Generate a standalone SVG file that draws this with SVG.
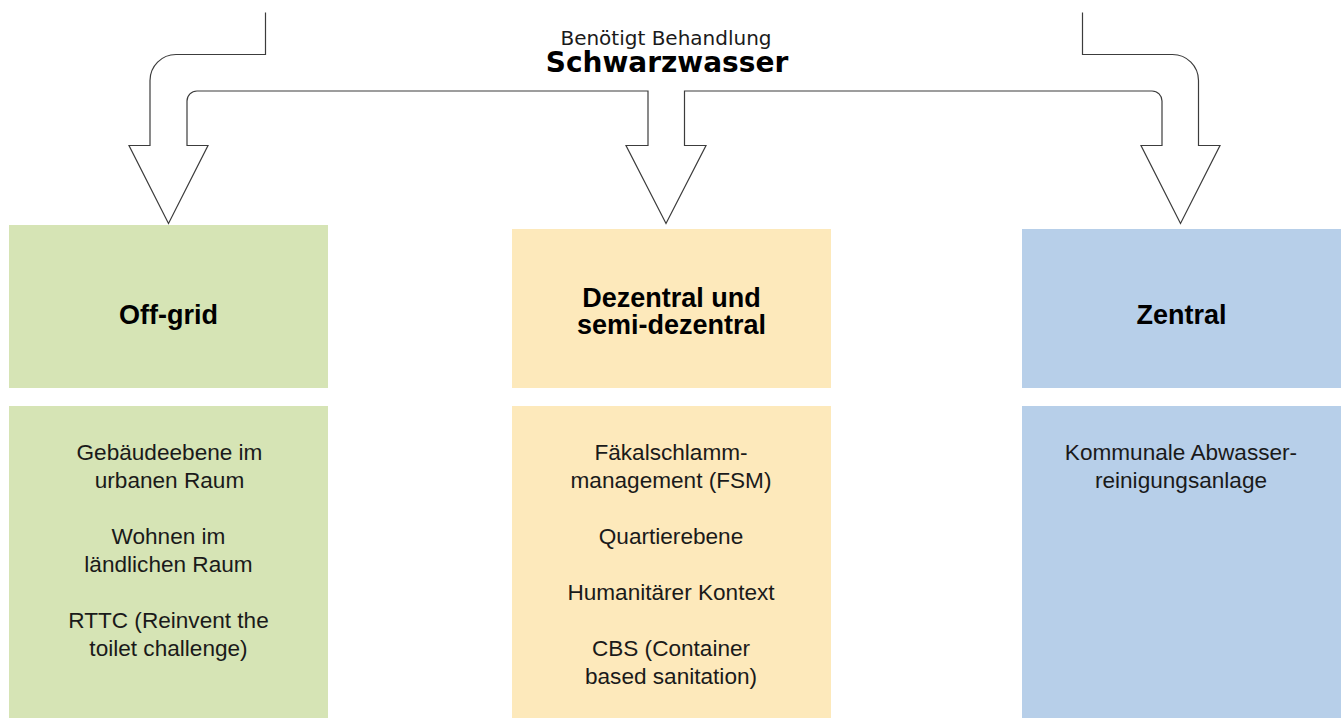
<svg xmlns="http://www.w3.org/2000/svg" width="1343" height="718" viewBox="0 0 1343 718">
<style>
  .green { fill: #d6e4b5; }
  .yellow { fill: #fde9bb; }
  .blue { fill: #b7cfe9; }
  .head { font-family: "Liberation Sans", Arial, sans-serif; font-weight: bold; font-size: 27px; fill: #000; text-anchor: middle; }
  .body { font-family: "Liberation Sans", Arial, sans-serif; font-size: 22.6px; fill: #1a1a1a; text-anchor: middle; }
  .title { font-family: "DejaVu Sans", "Liberation Sans", sans-serif; text-anchor: middle; fill: #000; }
  .conn { fill: none; stroke: #3c3c3c; stroke-width: 1.2; stroke-linejoin: miter; }
</style>

<g id="connectors">
  <path class="conn" d="M265.5,12.5 V54.5 H176 A26,26 0 0 0 150,80.5 V145.5 H129 L168.5,223.5 L208,145.5 H187 V101 A10,10 0 0 1 197,91 H648 V145.5 H626 L666,223.5 L706,145.5 H684.5 V91 H1152 A10,10 0 0 1 1162,101 V145.5 H1141 L1180.5,223.5 L1220,145.5 H1198.5 V80.5 A26,26 0 0 0 1172.5,54.5 H1082.5 V12.5"/>
</g>

<g id="title">
  <text class="title" x="666" y="45" style="font-size:20px;fill:#1a1a1a">Benötigt Behandlung</text>
  <text class="title" x="667" y="72" style="font-weight:bold;font-size:28px">Schwarzwasser</text>
</g>

<g id="offgrid">
  <rect class="green" x="9" y="225" width="319" height="163"/>
  <text class="head" x="168.5" y="324">Off-grid</text>
</g>

<g id="dezentral">
  <rect class="yellow" x="512" y="229" width="319" height="159"/>
  <text class="head" x="671.5" y="307">Dezentral und</text>
  <text class="head" x="671.5" y="334">semi-dezentral</text>
</g>

<g id="zentral">
  <rect class="blue" x="1022" y="229" width="319" height="159"/>
  <text class="head" x="1181.5" y="324">Zentral</text>
</g>

<g id="offgrid-details">
  <rect class="green" x="9" y="406" width="319" height="312"/>
  <text class="body" x="169.5" y="460">Gebäudeebene im</text>
  <text class="body" x="169.5" y="488">urbanen Raum</text>
  <text class="body" x="168.5" y="544">Wohnen im</text>
  <text class="body" x="168.5" y="572">ländlichen Raum</text>
  <text class="body" x="168.5" y="628">RTTC (Reinvent the</text>
  <text class="body" x="168.5" y="656">toilet challenge)</text>
</g>

<g id="dezentral-details">
  <rect class="yellow" x="512" y="406" width="319" height="312"/>
  <text class="body" x="671" y="460">Fäkalschlamm-</text>
  <text class="body" x="671" y="488">management (FSM)</text>
  <text class="body" x="671" y="544">Quartierebene</text>
  <text class="body" x="671" y="600">Humanitärer Kontext</text>
  <text class="body" x="671" y="656">CBS (Container</text>
  <text class="body" x="671" y="684">based sanitation)</text>
</g>

<g id="zentral-details">
  <rect class="blue" x="1022" y="406" width="319" height="312"/>
  <text class="body" x="1181" y="460">Kommunale Abwasser-</text>
  <text class="body" x="1181" y="488">reinigungsanlage</text>
</g>
</svg>
